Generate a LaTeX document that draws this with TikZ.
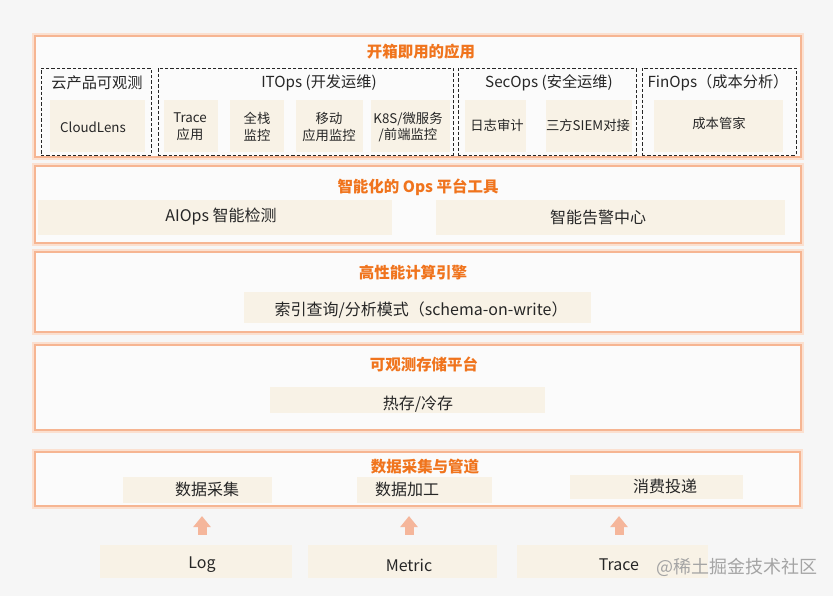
\documentclass[tikz,border=0pt]{standalone}
\usepackage{fontspec}
\setmainfont{Noto Sans CJK SC}
\usetikzlibrary{arrows.meta,fit,calc}
\definecolor{bgc}{HTML}{F6F6F6}
\definecolor{boxfill}{HTML}{FBFBFB}
\definecolor{boxline}{HTML}{F6B592}
\definecolor{boxglow}{HTML}{FBE0D0}
\definecolor{cream}{HTML}{F8F2E6}
\definecolor{ttlc}{HTML}{F0741D}
\definecolor{txtc}{HTML}{262626}
\definecolor{arrc}{HTML}{F5B69B}
\definecolor{wmc}{HTML}{A4A4A4}
\tikzset{
  layer/.style={draw=boxline, line width=1.6pt, fill=boxfill, inner sep=0pt,
    preaction={draw=boxglow, line width=3.8pt}},
  creambox/.style={fill=cream, draw=none, inner sep=0pt},
  dashbox/.style={draw=black!85, line width=0.75pt, dash pattern=on 2.4pt off 1.6pt, inner sep=0pt},
  ttl/.style={text=ttlc, font=\fontsize{11.6}{13}\selectfont\bfseries, inner sep=1pt},
  grp/.style={text=txtc, font=\fontsize{11.4}{14}\selectfont, inner sep=1pt},
  txt/.style={text=txtc, font=\fontsize{12}{14}\selectfont, inner sep=1pt},
  small/.style={text=txtc, font=\fontsize{10}{12.5}\selectfont, align=center, inner sep=1pt},
  bigarrow/.style={draw=arrc, line width=6.75pt,
    -{Triangle[width=12.75pt 0 0, length=8.25pt 0 0]}, shorten <=7.5pt, shorten >=6.75pt},
}
\begin{document}
\begin{tikzpicture}[x=0.75pt,y=-0.75pt]
\fill[bgc] (0,0) rectangle (833,596);
\useasboundingbox (0,0) rectangle (833,596);

% ---------- layer 1 ----------
\node[layer, fit={(35,36)(801,157)}] (L1) {};
\node[ttl] (L1t) at (421,52) {开箱即用的应用};
\node[dashbox, fit={(41,68)(151,155)}] (G1) {};
\node[grp] (G1t) at (97,83) {云产品可观测};
\node[creambox, fit={(50,100)(145,152)}] (c1) {};
\node[small] (c1t) at (93,127) {CloudLens};

\node[dashbox, fit={(158,68)(453,155)}] (G2) {};
\node[grp] (G2t) at (319,83) {ITOps (开发运维)};
\node[creambox, fit={(164,100)(218,152)}] (c2) {};
\node[small] (c2t) at (190,127) {Trace\\应用};
\node[creambox, fit={(230,100)(284,152)}] (c3) {};
\node[small] (c3t) at (257,127) {全栈\\监控};
\node[creambox, fit={(296,100)(363,152)}] (c4) {};
\node[small] (c4t) at (329,127) {移动\\应用监控};
\node[creambox, fit={(371,100)(450,152)}] (c5) {};
\node[small] (c5t) at (408,127) {K8S/微服务\\/前端监控};

\node[dashbox, fit={(458,68)(636,155)}] (G3) {};
\node[grp] (G3t) at (549,83) {SecOps (安全运维)};
\node[creambox, fit={(465,100)(526,152)}] (c6) {};
\node[small] (c6t) at (497,125) {日志审计};
\node[creambox, fit={(546,100)(632,152)}] (c7) {};
\node[small] (c7t) at (588,125) {三方SIEM对接};

\node[dashbox, fit={(642,68)(796,155)}] (G4) {};
\node[grp] (G4t) at (718,83) {FinOps（成本分析）};
\node[creambox, fit={(654,100)(783,152)}] (c8) {};
\node[small] (c8t) at (719,123) {成本管家};

% ---------- layer 2 ----------
\node[layer, fit={(35,166)(801,243)}] (L2) {};
\node[ttl] (L2t) at (418,187) {智能化的 Ops 平台工具};
\node[creambox, fit={(38,200)(392,235)}] (a1) {};
\node[txt] (a1t) at (221,217) {AIOps 智能检测};
\node[creambox, fit={(436,200)(785,235)}] (a2) {};
\node[txt] (a2t) at (598,217) {智能告警中心};

% ---------- layer 3 ----------
\node[layer, fit={(35,252)(801,332)}] (L3) {};
\node[ttl] (L3t) at (413,273) {高性能计算引擎};
\node[creambox, fit={(244,292)(591,323)}] (e1) {};
\node[txt] (e1t) at (421,310) {索引查询/分析模式（schema-on-write）};

% ---------- layer 4 ----------
\node[layer, fit={(35,345)(801,430)}] (L4) {};
\node[ttl] (L4t) at (424,364) {可观测存储平台};
\node[creambox, fit={(270,387)(545,413)}] (s1) {};
\node[txt] (s1t) at (418,404) {热存/冷存};

% ---------- layer 5 ----------
\node[layer, fit={(35,452)(800,506)}] (L5) {};
\node[ttl] (L5t) at (425,467) {数据采集与管道};
\node[creambox, fit={(123,477)(272,503)}] (p1) {};
\node[txt] (p1t) at (207,489) {数据采集};
\node[creambox, fit={(357,477)(492,503)}] (p2) {};
\node[txt] (p2t) at (407,489) {数据加工};
\node[creambox, fit={(570,475)(743,499)}] (p3) {};
\node[txt] (p3t) at (665,486) {消费投递};

% ---------- sources ----------
\node[creambox, fit={(100,545)(292,578)}] (log) {};
\node[txt] (logt) at (202,565) {Log};
\node[creambox, fit={(308,545)(497,578)}] (met) {};
\node[txt] (mett) at (409,565) {Metric};
\node[creambox, fit={(517,545)(708,578)}] (tr) {};
\node[txt] (trt) at (619,565) {Trace};

\draw[bigarrow] (logt |- log.north) -- (logt |- L5.south);
\draw[bigarrow] (mett |- met.north) -- (mett |- L5.south);
\draw[bigarrow] (trt |- tr.north) -- (trt |- L5.south);

\node[text=wmc, font=\fontsize{13.5}{15}\selectfont, inner sep=0pt] (wm) at (737,567) {@稀土掘金技术社区};
\end{tikzpicture}
\end{document}
